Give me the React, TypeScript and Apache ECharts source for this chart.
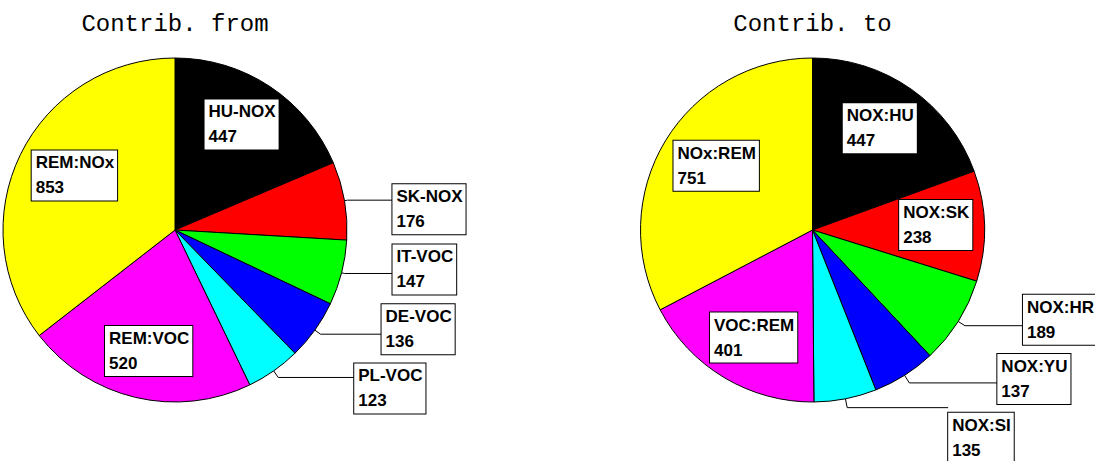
import React, { useEffect, useRef } from 'react';
import * as echarts from 'echarts';

// ---- data ----
const titles = ['Contrib. from', 'Contrib. to'];
const fromNames = ['HU-NOX', 'SK-NOX', 'IT-VOC', 'DE-VOC', 'PL-VOC', 'REM:VOC', 'REM:NOx'];
const fromValues = [447, 176, 147, 136, 123, 520, 853];
const fromInside = [true, false, false, false, false, true, true];
const toNames = ['NOX:HU', 'NOX:SK', 'NOX:HR', 'NOX:YU', 'NOX:SI', 'VOC:REM', 'NOx:REM'];
const toValues = [447, 238, 189, 137, 135, 401, 751];
const toInside = [true, true, false, false, false, true, true];

// ---- styles ----
const sliceColors = ['#000000', '#ff0000', '#00ff00', '#0000ff', '#00ffff', '#ff00ff', '#ffff00'];
// leader line [length, length2] per slice
const fromLeader = [[0, 0], [3, 45], [3, 48], [7, 61], [8, 76], [0, 0], [0, 0]];
const toLeader = [[0, 0], [0, 0], [8, 58], [9, 88], [9, 101], [0, 0], [0, 0]];
// label box shift [dx, dy] per slice
const fromShift = [[-2, -2], [0, 9], [0, -4], [0, -5], [0, 11], [2, 0], [11, 0]];
const toShift = [[-4, 0], [-1, -2], [0, -6], [0, -4], [0, 30], [5, 1], [10, 0]];
const R = 172;
const CY = 230;
const centersX = [175, 812.5];

const FONT = '"Liberation Sans", Arial, Helvetica, sans-serif';

const boxLabel = {
  formatter: (p: any) => `{t|${p.name}}\n{t|${p.value}}`,
  backgroundColor: '#ffffff',
  borderColor: '#000000',
  borderWidth: 1,
  padding: [0, 3, 0, 4],
  color: '#000',
  fontFamily: FONT,
  fontWeight: 'bold',
  fontSize: 17,
  lineHeight: 25,
  overflow: 'none',
  rich: {
    t: { align: 'left', color: '#000', fontFamily: FONT, fontWeight: 'bold', fontSize: 17, lineHeight: 25 },
  },
};

function makeSeries(
  names: string[], values: number[], inside: boolean[], leader: number[][], shift: number[][], cx: number,
) {
  const main = {
    type: 'pie',
    center: [cx, CY],
    radius: R,
    startAngle: 90,
    clockwise: true,
    avoidLabelOverlap: false,
    silent: true,
    itemStyle: { borderColor: '#000', borderWidth: 1 },
    label: { ...boxLabel, position: 'outside', alignTo: 'none', distanceToLabelLine: 0 },
    labelLine: { lineStyle: { color: '#000', width: 1 } },
    labelLayout: (p: any) => {
      const s = shift[p.dataIndex] || [0, 0];
      const r = p.labelRect;
      return {
        y: r.y + r.height / 2 + s[1],
        labelLinePoints: p.labelLinePoints,
      };
    },
    emphasis: { disabled: true },
    data: names.map((n, i) => ({
      name: n,
      value: values[i],
      itemStyle: { color: sliceColors[i] },
      label: { show: !inside[i] },
      labelLine: { show: !inside[i], length: leader[i][0], length2: leader[i][1] },
    })),
  };
  const overlay = {
    type: 'pie',
    center: [cx, CY],
    radius: [R * 0.41, R],
    startAngle: 90,
    clockwise: true,
    silent: true,
    avoidLabelOverlap: false,
    itemStyle: { color: 'rgba(0,0,0,0)', borderWidth: 0 },
    label: { ...boxLabel, position: 'inside' },
    labelLine: { show: false },
    labelLayout: (p: any) => {
      const s = shift[p.dataIndex] || [0, 0];
      const r = p.labelRect;
      return {
        x: r.x + r.width / 2 + s[0],
        y: r.y + r.height / 2 + s[1],
      };
    },
    emphasis: { disabled: true },
    data: names.map((n, i) => ({
      name: n,
      value: values[i],
      label: { show: inside[i] },
    })),
  };
  return [main, overlay];
}

export default function App() {
  const ref = useRef<HTMLDivElement>(null);
  useEffect(() => {
    if (!ref.current) return;
    const chart = echarts.init(ref.current, undefined, { renderer: 'svg' });
    chart.setOption({
      animation: false,
      backgroundColor: '#ffffff',
      graphic: titles.map((t, i) => ({
        type: 'text',
        x: centersX[i],
        y: 24,
        style: {
          text: t,
          font: '24px "Liberation Mono", "Courier New", monospace',
          fill: '#000',
          textAlign: 'center',
          textVerticalAlign: 'middle',
        },
      })),
      series: [
        ...makeSeries(fromNames, fromValues, fromInside, fromLeader, fromShift, centersX[0]),
        ...makeSeries(toNames, toValues, toInside, toLeader, toShift, centersX[1]),
      ],
    });
    return () => chart.dispose();
  }, []);
  return <div ref={ref} style={{ position: 'fixed', left: 0, top: 0, width: 1095, height: 461 }} />;
}
